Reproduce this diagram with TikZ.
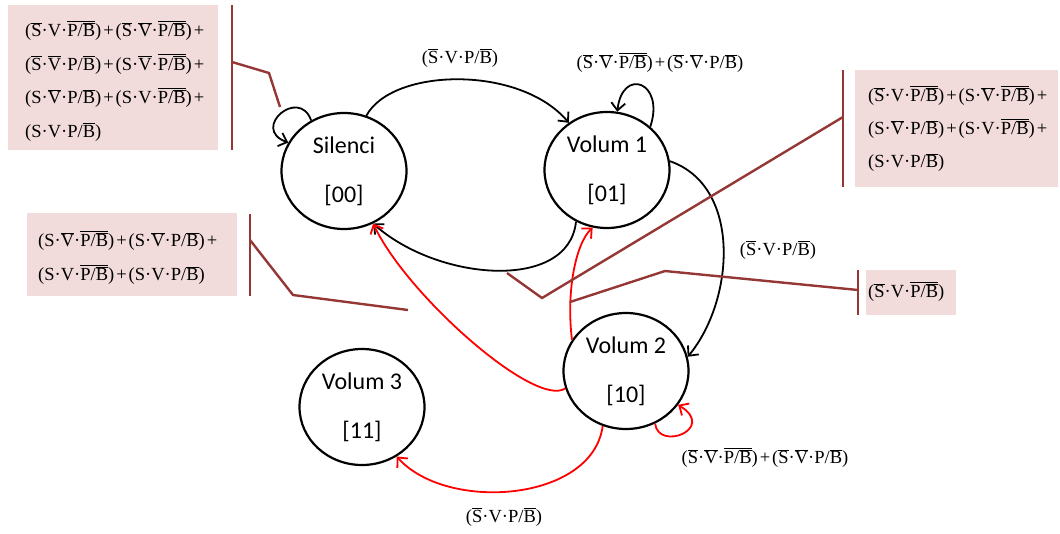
\documentclass[tikz,border=0pt]{standalone}
\usepackage{fontspec}
\setmainfont{Liberation Serif}
\newfontfamily\statefont{Carlito}
\usetikzlibrary{shapes.geometric,arrows.meta}
\definecolor{calloutline}{HTML}{953735}
\definecolor{calloutfill}{HTML}{F2DCDB}
% negated (overlined) text and the recurring terms of the conditions
\newcommand\nb[1]{\vbox{\hrule height 0.55pt\kern1.3pt\hbox{#1}}}
\newcommand\nS{\nb{S}}
\newcommand\nV{\nb{V}}
\newcommand\pb{\nb{P/\nb{B}}}
\newcommand\pnb{P/\nb{B}}
\newcommand\plus{\kern2pt+\kern2pt}
\tikzset{
  state/.style={ellipse, draw, line width=2.2pt, minimum width=125pt,
    minimum height=116pt, inner sep=0pt, align=center,
    font=\statefont\fontsize{24}{49}\selectfont},
  trans/.style={line width=1.8pt, -{Straight Barb[length=7.5pt,width=14pt]}},
  redtrans/.style={trans, draw=red},
  lbl/.style={font=\fontsize{18.5}{22}\selectfont, inner sep=0pt},
  ctext/.style={align=left, inner sep=0pt, anchor=west},
  cline/.style={draw=calloutline, line width=2.4pt},
}
\begin{document}
\begin{tikzpicture}[x=1pt,y=-1pt]
\useasboundingbox (0,0) rectangle (1060,533);

% callout backgrounds
\fill[calloutfill] (8,5) rectangle (218,150);
\fill[calloutfill] (855,70) rectangle (1058,187);
\fill[calloutfill] (27,213) rectangle (237,296);
\fill[calloutfill] (866,270) rectangle (956,315);

% states
\node[state] (sil) at (344,171) {Silenci\\{[00]}};
\node[state] (v1)  at (607,170) {Volum 1\\{[01]}};
\node[state] (v2)  at (626,371) {Volum 2\\{[10]}};
\node[state] (v3)  at (362,407) {Volum 3\\{[11]}};

% black transitions
\draw[trans] (sil.123) .. controls +(-12,-34) and +(-38,-14) .. (sil.153);
\draw[trans] (sil.68) .. controls +(26,-48) and +(-49,-58) .. (v1.129);
\draw[trans] (v1.45) .. controls +(15,-45) and +(5,-45) .. (v1.80);
\draw[trans] (v1.239) .. controls +(-7,70) and +(65,58) .. (sil.299);
\draw[trans] (v1.8) .. controls +(72,25) and +(47,-57) .. (v2.13);

% red transitions
\draw[redtrans] (v2.150) .. controls +(-6,-48) and +(-17,16) .. (v1.256);
\draw[redtrans] (v2.196) .. controls +(-30,20) and +(34,72) .. (sil.299);
\draw[redtrans] (v2.299) .. controls +(3,28) and +(39,24) .. (v2.327);
\draw[redtrans] (v2.247) .. controls +(-10,76) and +(50,56) .. (v3.305);

% transition labels
\node[lbl] (l1) at (460,58) {(\nS·V·\pnb)};
\node[lbl] (l2) at (660,63) {(\nS·\nV·\pb)\plus(\nS·\nV·\pnb)};
\node[lbl] (l3) at (778,250) {(\nS·V·\pnb)};
\node[lbl] (l4) at (765,458) {(\nS·\nV·\pb)\plus(\nS·\nV·\pnb)};
\node[lbl] (l5) at (504,517) {(\nS·V·\pnb)};

% callout texts
\node[ctext, font=\fontsize{18.5}{33.5}\selectfont] (boxA) at (25,81)
  {(\nS·V·\pb)\plus(\nS·\nV·\pb)\plus\\
   (\nS·\nV·\pnb)\plus(S·\nV·\pb)\plus\\
   (S·\nV·\pnb)\plus(S·V·\pb)\plus\\
   (S·V·\pnb)};
\node[ctext, font=\fontsize{18.5}{33}\selectfont] (boxB) at (868,129)
  {(\nS·V·\pb)\plus(S·\nV·\pb)\plus\\
   (S·\nV·\pnb)\plus(S·V·\pb)\plus\\
   (S·V·\pnb)};
\node[ctext, font=\fontsize{18.5}{34}\selectfont] (boxC) at (38,258)
  {(S·\nV·\pb)\plus(S·\nV·\pnb)\plus\\
   (S·V·\pb)\plus(S·V·\pnb)};
\node[ctext, font=\fontsize{18.5}{22}\selectfont] (boxD) at (868,292)
  {(\nS·V·\pb)};

% callout accent bars and leaders
\coordinate (aT) at (232,5);   \coordinate (aB) at (232,150);
\coordinate (aS) at (232,62);  \coordinate (aK) at (269,73);  \coordinate (aE) at (280,107);
\coordinate (bT) at (843,70);  \coordinate (bB) at (843,187);
\coordinate (bS) at (843,117); \coordinate (bK) at (542,298); \coordinate (bE) at (507,273);
\coordinate (cT) at (250,214); \coordinate (cB) at (250,296);
\coordinate (cS) at (250,240); \coordinate (cK) at (293,295); \coordinate (cE) at (408,310);
\coordinate (dT) at (858,270); \coordinate (dB) at (858,315);
\coordinate (dS) at (858,290); \coordinate (dK) at (665,271); \coordinate (dE) at (570,302);

\draw[cline] (aT) -- (aB);  \draw[cline] (aS) -- (aK) -- (aE);
\draw[cline] (bT) -- (bB);  \draw[cline] (bS) -- (bK) -- (bE);
\draw[cline] (cT) -- (cB);  \draw[cline] (cS) -- (cK) -- (cE);
\draw[cline] (dT) -- (dB);  \draw[cline] (dS) -- (dK) -- (dE);
\end{tikzpicture}
\end{document}
